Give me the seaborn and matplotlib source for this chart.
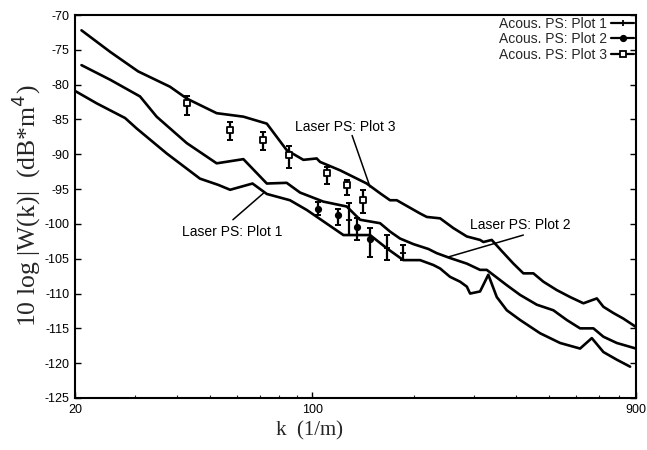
import matplotlib
matplotlib.use("Agg")
import matplotlib.pyplot as plt
import pandas as pd
import seaborn as sns

# Laser power spectra (wavenumber k in 1/m, level in dB re m^4)
laser1_k = [20.0, 23.2, 28.1, 30.4, 37.3, 46.7, 52.9, 57.3, 66.7, 73.5, 86.0, 96.4,
            123.6, 148.1, 165.9, 185.6, 207.9, 227.5, 238.2, 254.8, 272.8, 285.5,
            292.0, 312.4, 330.4, 349.9, 374.5, 410.0, 469.4, 537.8, 615.8, 666.8,
            721.4, 790.1, 864.7]
laser1_db = [-80.9, -82.7, -84.8, -86.3, -89.9, -93.5, -94.4, -95.1, -94.2, -95.7,
             -96.6, -98.0, -101.6, -101.6, -103.5, -105.2, -105.2, -105.9, -106.4,
             -107.6, -108.3, -109.0, -110.0, -109.7, -107.3, -110.5, -112.4, -113.8,
             -115.7, -117.1, -117.9, -116.4, -118.4, -119.5, -120.5]

laser2_k = [20.9, 25.4, 31.1, 34.8, 42.7, 52.3, 62.7, 73.5, 84.1, 92.1, 107.9, 126.4,
            138.4, 158.5, 169.6, 181.5, 198.7, 220.0, 232.8, 254.8, 285.5, 312.4,
            326.9, 374.5, 410.0, 459.0, 513.6, 562.7, 615.8, 674.2, 721.4, 790.1,
            900.0]
laser2_db = [-77.2, -79.3, -81.7, -84.6, -88.4, -91.3, -90.7, -94.2, -94.1, -95.5,
             -96.8, -97.5, -99.4, -99.9, -101.1, -102.1, -102.9, -103.6, -104.2,
             -104.9, -105.7, -106.6, -106.6, -108.8, -110.2, -111.6, -112.4, -113.8,
             -115.0, -115.0, -116.2, -117.1, -117.9]

laser3_k = [20.9, 25.4, 30.7, 38.1, 42.7, 52.3, 62.7, 73.5, 84.1, 94.2, 103.1, 105.5,
            120.8, 144.8, 158.5, 169.6, 177.5, 207.9, 217.6, 238.2, 260.6, 285.5,
            312.4, 319.5, 338.1, 362.0, 391.7, 419.1, 448.6, 480.1, 525.6, 575.5,
            629.9, 689.9, 721.4, 772.1, 826.2, 900.0]
laser3_db = [-72.2, -75.3, -78.1, -80.3, -82.0, -84.1, -84.6, -85.6, -89.4, -90.8,
             -90.6, -91.1, -92.3, -94.2, -95.6, -96.6, -96.6, -98.5, -99.0, -99.2,
             -100.6, -101.8, -102.3, -102.6, -102.3, -103.9, -105.7, -107.1, -107.1,
             -108.3, -109.5, -110.5, -111.4, -110.7, -111.9, -112.8, -113.6, -114.8]

# Acoustic power spectra: centre value with lower / upper error limits
acous1_k = [128.6, 165.9, 184.9]
acous1_db = [-99.4, -103.4, -104.2]
acous1_lo = [-101.6, -105.2, -105.2]
acous1_hi = [-97.0, -101.6, -103.0]

acous2_k = [104.3, 119.4, 135.3, 148.1]
acous2_db = [-97.8, -98.7, -100.4, -102.1]
acous2_lo = [-98.7, -100.2, -102.3, -104.7]
acous2_hi = [-96.8, -97.8, -99.2, -100.6]

acous3_k = [42.7, 57.3, 71.8, 85.6, 110.4, 126.4, 141.5]
acous3_db = [-82.7, -86.5, -88.0, -90.1, -92.7, -94.4, -96.6]
acous3_lo = [-84.4, -87.9, -89.4, -92.0, -94.2, -95.9, -98.5]
acous3_hi = [-81.7, -85.3, -86.8, -88.8, -91.8, -93.7, -95.1]

legend_labels = ["Acous. PS: Plot 1", "Acous. PS: Plot 2", "Acous. PS: Plot 3"]
x_ticks = [20, 100, 900]
y_ticks = list(range(-125, -69, 5))

sns.set_style("ticks")
plt.rcParams["font.family"] = ["Liberation Sans", "DejaVu Sans"]

fig = plt.figure(figsize=(6.47, 4.5), dpi=100)
ax = fig.add_axes([75 / 647, 1 - 398 / 450, 561 / 647, 383 / 450])

for k, db in [(laser1_k, laser1_db), (laser2_k, laser2_db), (laser3_k, laser3_db)]:
    df = pd.DataFrame({"k": k, "db": db})
    sns.lineplot(data=df, x="k", y="db", ax=ax, color="black", lw=1.9,
                 sort=False, estimator=None, legend=False)

acoustic = [
    (acous1_k, acous1_db, acous1_lo, acous1_hi, dict(marker="+", ms=5, mew=1.3, mfc="black")),
    (acous2_k, acous2_db, acous2_lo, acous2_hi, dict(marker="o", ms=4, mew=1.2, mfc="black")),
    (acous3_k, acous3_db, acous3_lo, acous3_hi, dict(marker="s", ms=5, mew=1.3, mfc="white")),
]
handles = []
for (k, db, lo, hi, mk), label in zip(acoustic, legend_labels):
    df = pd.DataFrame({"k": k, "db": db, "lo": lo, "hi": hi})
    yerr = [df["db"] - df["lo"], df["hi"] - df["db"]]
    ax.errorbar(df["k"], df["db"], yerr=yerr, fmt="none", ecolor="black",
                elinewidth=1.6, capsize=2.5, capthick=1.4, zorder=3)
    sns.scatterplot(data=df, x="k", y="db", ax=ax, marker=mk["marker"],
                    s=mk["ms"] ** 2, color="black", facecolor=mk["mfc"],
                    edgecolor="black", linewidth=mk["mew"], zorder=4, legend=False)
    h, = ax.plot([], [], color="black", lw=1.6, marker=mk["marker"], ms=mk["ms"],
                 mew=mk["mew"], mfc=mk["mfc"], mec="black")
    handles.append(h)

ax.legend(handles, legend_labels, loc="upper right", frameon=False, markerfirst=False,
          fontsize=10, handlelength=1.7, handletextpad=0.25, labelspacing=0.1,
          bbox_to_anchor=(0.997, 0.995), borderaxespad=0, borderpad=0)

# Labels naming the laser spectra, each with a leader line to its curve
txt = dict(fontsize=10, color="black", ha="center", va="center")
lead = dict(arrowstyle="-", color="black", lw=1.1, shrinkA=0, shrinkB=0)
ax.text(58.0, -101.2, "Laser PS: Plot 1", **txt)
ax.annotate("", xy=(71.8, -95.6), xytext=(58.4, -99.4), arrowprops=lead)
ax.text(125.0, -86.1, "Laser PS: Plot 3", **txt)
ax.annotate("", xy=(148.1, -94.7), xytext=(131.1, -87.3), arrowprops=lead)
ax.text(410.0, -100.2, "Laser PS: Plot 2", **txt)
ax.annotate("", xy=(249.7, -104.8), xytext=(419.1, -101.6), arrowprops=lead)

ax.set_xscale("log")
ax.set_xlim(20, 900)
ax.set_ylim(-125, -70)
ax.set_xticks(x_ticks)
ax.set_xticklabels([str(t) for t in x_ticks])
ax.set_yticks(y_ticks)
ax.set_yticklabels([str(t) for t in y_ticks])
ax.tick_params(axis="both", which="major", direction="in", length=4, width=1,
               labelsize=9, colors="black", right=True, top=False, pad=4)
ax.tick_params(axis="x", which="minor", direction="in", length=2.5, width=0.8, top=False)
ax.set_xlabel("")
ax.set_ylabel("")
for sp in ax.spines.values():
    sp.set_visible(True)
    sp.set_linewidth(1.5)
    sp.set_color("black")

fig.text(26 / 647, 1 - 206 / 450, "10 log |W(k)|  (dB*m$^4$)", rotation=90,
         ha="center", va="center", fontsize=18.5, family=["Liberation Serif", "DejaVu Serif"])
fig.text(310 / 647, 1 - 431 / 450, "k  (1/m)", ha="center", va="center",
         fontsize=15, family=["Liberation Serif", "DejaVu Serif"])

fig.savefig("out.png", dpi=100, facecolor="white")
